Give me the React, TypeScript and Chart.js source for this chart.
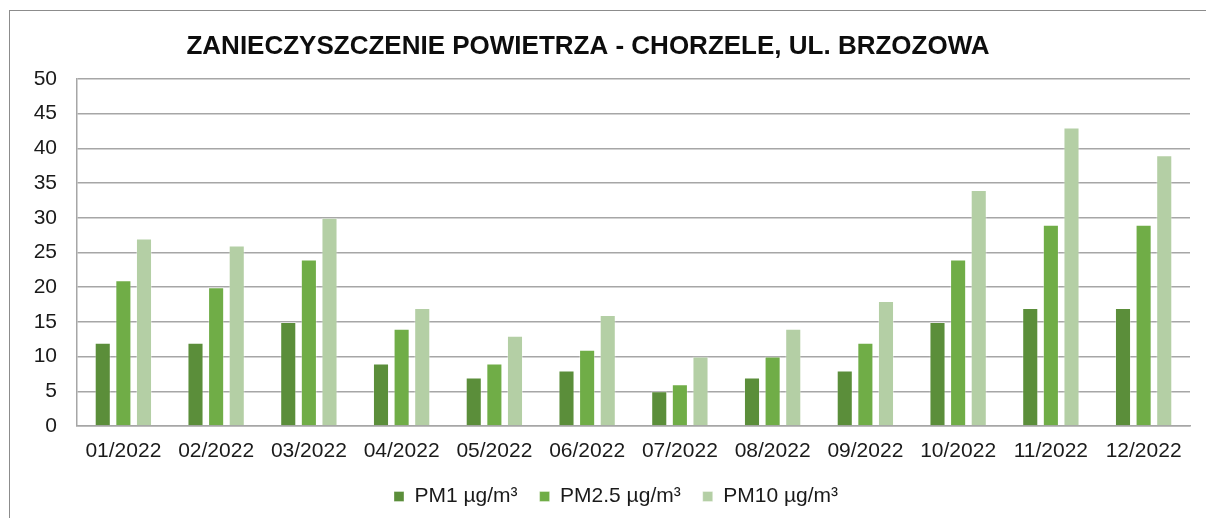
import React, { useEffect, useRef } from 'react';
import { Chart, registerables } from 'chart.js';

Chart.register(...registerables);

const categories = ['01/2022', '02/2022', '03/2022', '04/2022', '05/2022', '06/2022', '07/2022', '08/2022', '09/2022', '10/2022', '11/2022', '12/2022'];
const pm1 = [12, 12, 15, 9, 7, 8, 5, 7, 8, 15, 17, 17];
const pm25 = [21, 20, 24, 14, 9, 11, 6, 10, 12, 24, 29, 29];
const pm10 = [27, 26, 30, 17, 13, 16, 10, 14, 18, 34, 43, 39];
const seriesLabels = ['PM1 µg/m³', 'PM2.5 µg/m³', 'PM10 µg/m³'];
const seriesColors = ['#5B8E3A', '#70AD47', '#B4CFA5'];
const titleText = 'ZANIECZYSZCZENIE POWIETRZA - CHORZELE, UL. BRZOZOWA';
const yMin = 0;
const yMax = 50;
const yStep = 5;

const FONT = '"Liberation Sans", Arial, sans-serif';

const framePlugin = {
  id: 'frame',
  beforeDraw(chart: any) {
    const ctx = chart.ctx;
    ctx.save();
    ctx.fillStyle = '#ffffff';
    ctx.fillRect(0, 0, chart.width, chart.height);
    ctx.strokeStyle = '#8C8C8C';
    ctx.lineWidth = 1;
    ctx.strokeRect(9.5, 10.5, 1400, 700);
    ctx.restore();
  },
};

const titlePlugin = {
  id: 'customTitle',
  afterDraw(chart: any) {
    const ctx = chart.ctx;
    ctx.save();
    ctx.font = `bold 26px ${FONT}`;
    ctx.fillStyle = '#0D0D0D';
    ctx.textAlign = 'center';
    ctx.textBaseline = 'middle';
    ctx.fillText(titleText, 588, 47);
    ctx.restore();
  },
};

const legendShiftPlugin = {
  id: 'legendShift',
  afterLayout(chart: any) {
    if (chart.legend) {
      chart.legend.left += 21;
      chart.legend.right += 21;
    }
  },
};

export default function App() {
  const ref = useRef<HTMLCanvasElement | null>(null);

  useEffect(() => {
    document.body.style.margin = '0';
    if (!ref.current) return;
    const data = [pm1, pm25, pm10];
    const chart = new Chart(ref.current, {
      type: 'bar',
      data: {
        labels: categories,
        datasets: data.map((d, i) => ({
          label: seriesLabels[i],
          data: d,
          backgroundColor: seriesColors[i],
          borderColor: 'rgba(255,255,255,0.35)',
          borderWidth: 1,
          barPercentage: 0.78,
          categoryPercentage: 0.667,
        })),
      },
      options: {
        animation: false,
        responsive: false,
        maintainAspectRatio: false,
        layout: { padding: { top: 79, left: 0, right: 16, bottom: 1 } },
        plugins: {
          title: { display: false },
          tooltip: { enabled: false },
          legend: {
            position: 'bottom',
            labels: {
              boxWidth: 10,
              boxHeight: 10,
              padding: 22,
              color: '#1A1A1A',
              font: { family: FONT, size: 21 },
            },
          },
        },
        scales: {
          x: {
            grid: { display: false, drawTicks: false },
            border: { display: true, color: '#A6A6A6', width: 1.5 },
            ticks: {
              color: '#1A1A1A',
              font: { family: FONT, size: 21 },
              padding: 13,
              maxRotation: 0,
              autoSkip: false,
            },
            afterFit(scale: any) {
              scale.height = 38;
            },
          },
          y: {
            min: yMin,
            max: yMax,
            grid: { color: '#A6A6A6', lineWidth: 1.5, drawTicks: false },
            border: { display: true, color: '#A6A6A6', width: 1.5 },
            ticks: {
              stepSize: yStep,
              color: '#1A1A1A',
              font: { family: FONT, size: 21 },
              padding: 20,
            },
            afterFit(scale: any) {
              scale.width = 77;
            },
          },
        },
      },
      plugins: [framePlugin, titlePlugin, legendShiftPlugin],
    });
    return () => chart.destroy();
  }, []);

  return (
    <div style={{ width: 1206, height: 518 }}>
      <canvas ref={ref} width={1206} height={518} style={{ display: 'block' }} />
    </div>
  );
}
